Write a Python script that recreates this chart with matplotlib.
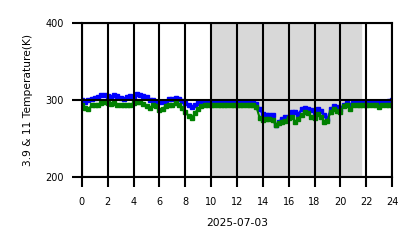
import numpy as np
import matplotlib
matplotlib.use("Agg")
import matplotlib.pyplot as plt

# hours of day, every 15 minutes
hours = np.arange(0, 24.01, 0.25)

# 3.9 um brightness temperature (K)
t39 = [300, 298, 300, 302, 303, 304, 306, 306, 305, 304, 307, 305,
       303, 301, 304, 305, 304, 308, 307, 305, 304, 300, 300, 298,
       297, 297, 298, 301, 302, 303, 301, 299, 296, 293, 291, 293,
       296, 297, 298, 298, 298, 298, 298, 298, 298, 298, 298, 298,
       298, 298, 298, 298, 298, 298, 295, 288, 282, 280, 281, 280,
       267, 272, 276, 278, 278, 284, 284, 282, 288, 290, 289, 287,
       285, 288, 286, 280, 276, 288, 292, 291, 289, 294, 296, 294,
       296, 297, 297, 297, 298, 298, 298, 298, 298, 298, 298, 299, 300]

# 11 um brightness temperature (K)
t11 = [293, 290, 288, 293, 294, 294, 296, 297, 296, 295, 296, 294,
       294, 293, 293, 293, 296, 298, 297, 295, 292, 290, 293, 292,
       287, 289, 292, 293, 294, 296, 294, 290, 285, 279, 277, 283,
       289, 292, 294, 294, 294, 294, 294, 294, 294, 294, 294, 294,
       294, 294, 294, 294, 294, 294, 291, 277, 274, 275, 276, 274,
       268, 270, 272, 273, 277, 278, 272, 276, 280, 284, 283, 278,
       277, 282, 278, 272, 273, 285, 288, 286, 285, 292, 293, 289,
       293, 293, 293, 293, 293, 293, 293, 293, 291, 293, 293, 293, 293]

night_start, night_end = 10.0, 21.6

fig = plt.figure(figsize=(4.18, 2.48), dpi=100)
ax = fig.add_axes([0.196, 0.286, 0.742, 0.621])

ax.axvspan(night_start, night_end, color="#d8d8d8", zorder=0)
ax.plot(hours, t39, color="blue", marker="s", ms=3, lw=1.5, zorder=2)
ax.plot(hours, t11, color="green", marker="s", ms=3, lw=1.5, zorder=2)

ax.set_xlim(0, 24)
ax.set_ylim(200, 400)
ax.set_xticks(np.arange(0, 25, 2))
ax.set_yticks([200, 300, 400])
ax.grid(True, color="black", lw=1.5, zorder=3)
ax.set_axisbelow(False)
for s in ax.spines.values():
    s.set_linewidth(1.5)
ax.tick_params(axis="y", length=7, width=1.5, labelsize=7, pad=6)
ax.tick_params(axis="x", length=7, width=1.5, labelsize=7, pad=7)
ax.set_ylabel("3.9 & 11 Temperature(K)", fontsize=7.7, labelpad=9)
ax.set_xlabel("2025-07-03", fontsize=7.7, labelpad=8)

fig.savefig("out.png", dpi=100)
